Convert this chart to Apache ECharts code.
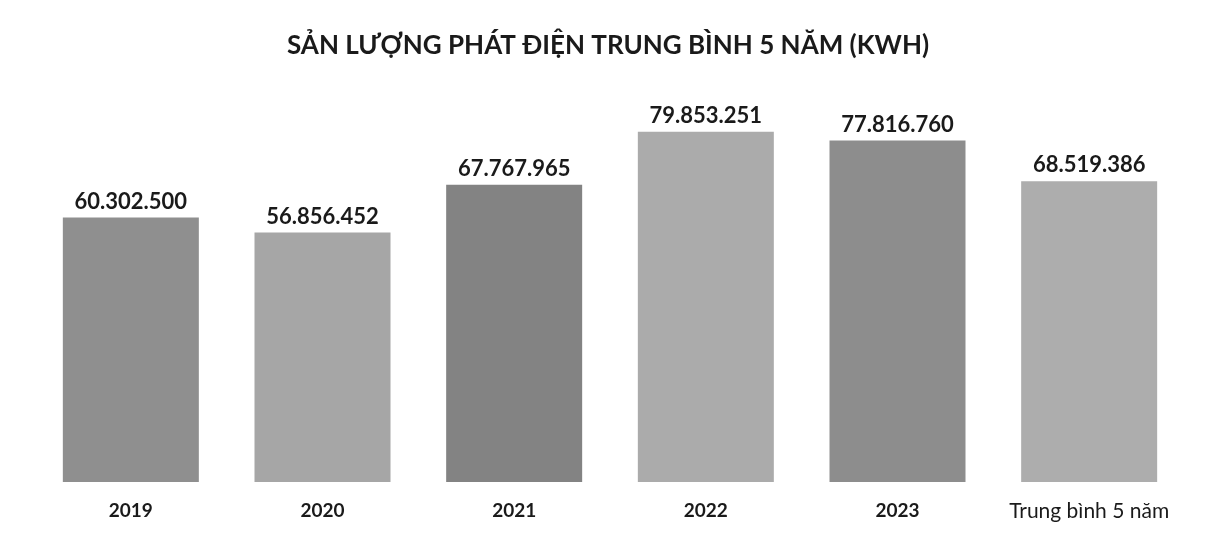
<!DOCTYPE html>
<html>
<head>
<meta charset="utf-8">
<script src="https://cdn.jsdelivr.net/npm/echarts@6/dist/echarts.min.js"></script>
<style>
  html, body { margin: 0; padding: 0; background: #fff; }
  #chart { width: 1216px; height: 539px; }
</style>
</head>
<body>
<div id="chart"></div>
<script>
// data
var categories = ['2019', '2020', '2021', '2022', '2023', 'Trung bình 5 năm'];
var values = [60302500, 56856452, 67767965, 79853251, 77816760, 68519386];
var barColors = ['#8f8f8f', '#a6a6a6', '#838383', '#ababab', '#8d8d8d', '#adadad'];

function fmt(v) {
    return String(v).replace(/\B(?=(\d{3})+(?!\d))/g, '.');
}

var chart = echarts.init(document.getElementById('chart'));

var option = {
    backgroundColor: '#ffffff',
    animation: false,
    title: {
        text: 'SẢN LƯỢNG PHÁT ĐIỆN TRUNG BÌNH 5 NĂM (KWH)',
        left: 'center',
        top: 28,
        textStyle: {
            fontFamily: 'Lato',
            fontWeight: 'bold',
            fontSize: 26,
            color: '#1a1a1a'
        }
    },
    grid: {
        left: 35,
        right: 31,
        top: 131,
        bottom: 57,
        containLabel: false
    },
    xAxis: {
        type: 'category',
        data: categories,
        axisLine: { show: false },
        axisTick: { show: false },
        axisLabel: {
            interval: 0,
            margin: 19,
            fontFamily: 'Lato',
            fontSize: 19,
            fontWeight: 'bold',
            color: '#1a1a1a',
            formatter: function (v) {
                return v.length > 4 ? '{n|' + v + '}' : v;
            },
            rich: {
                n: { fontFamily: 'Lato', fontSize: 21, fontWeight: 'normal', color: '#1a1a1a' }
            }
        }
    },
    yAxis: {
        type: 'value',
        min: 0,
        max: 80000000,
        show: false,
        splitLine: { show: false }
    },
    series: [{
        type: 'bar',
        barWidth: 136,
        data: values.map(function (v, i) {
            return { value: v, itemStyle: { color: barColors[i] } };
        }),
        label: {
            show: true,
            position: 'top',
            distance: 5,
            fontFamily: 'Lato',
            fontWeight: 'bold',
            fontSize: 22,
            color: '#1a1a1a',
            formatter: function (p) { return fmt(p.value); }
        }
    }]
};

chart.setOption(option);
</script>
</body>
</html>
